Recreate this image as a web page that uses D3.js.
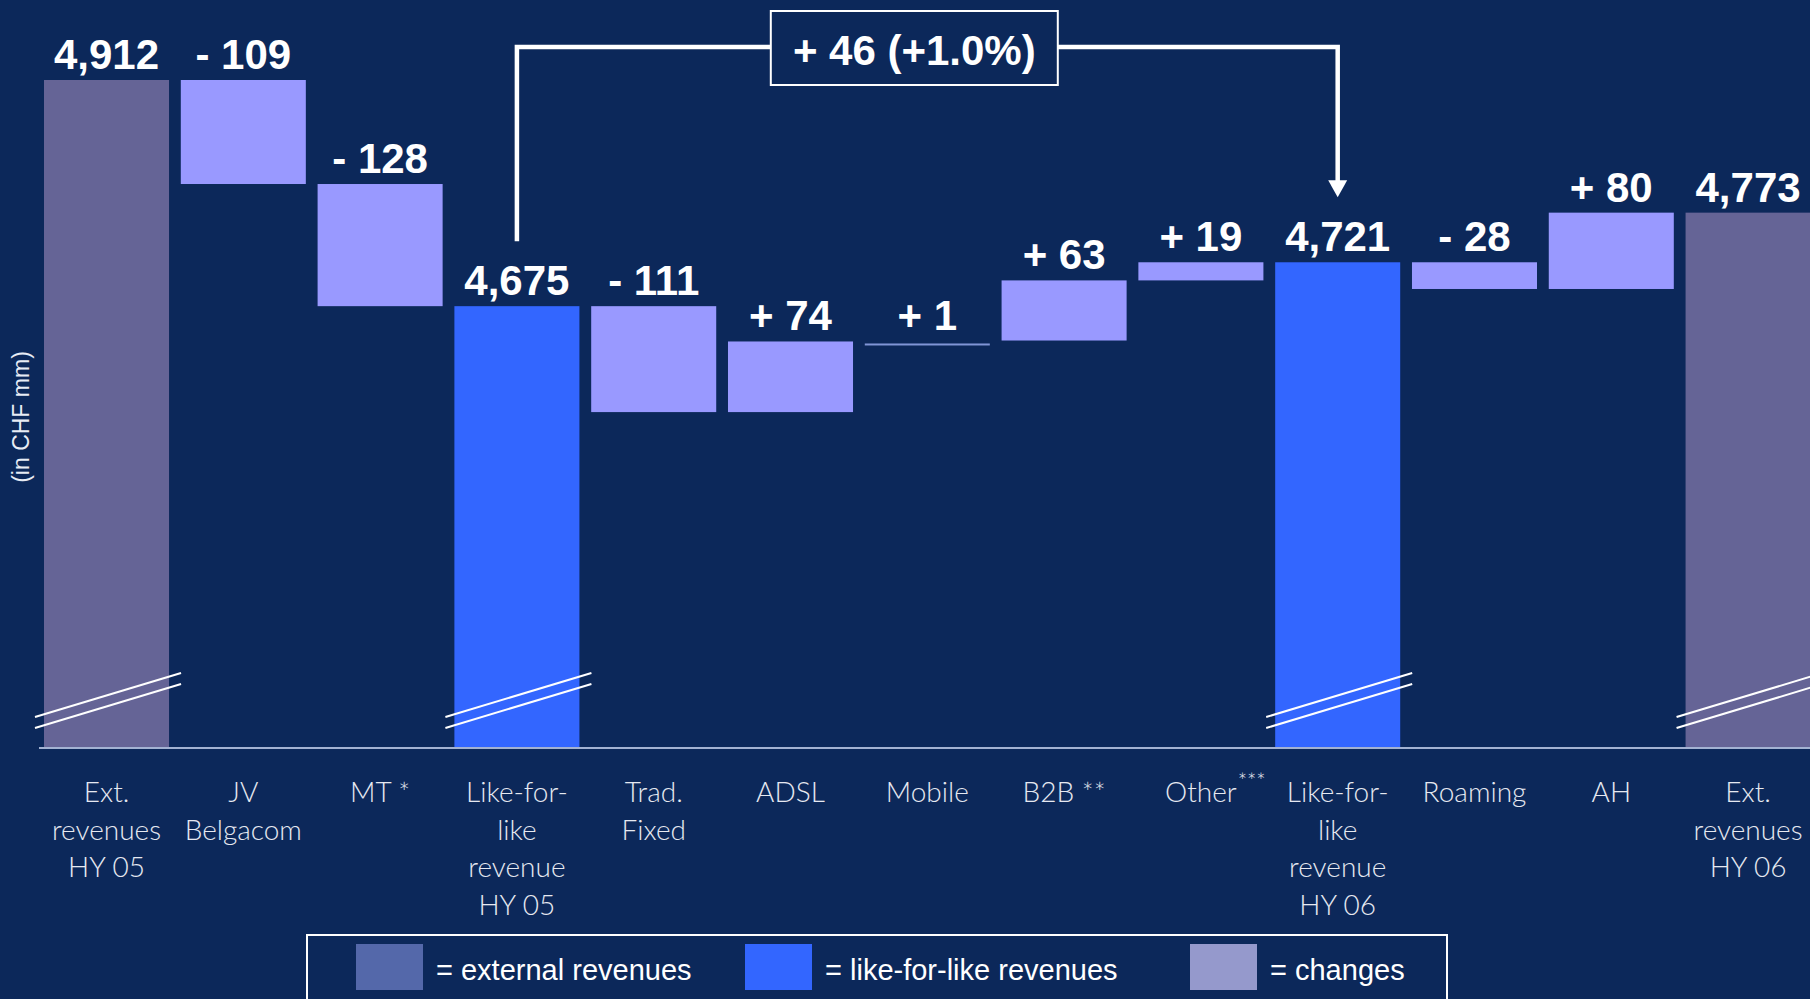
<!DOCTYPE html>
<html>
<head>
<meta charset="utf-8">
<script src="https://cdn.jsdelivr.net/npm/d3@7"></script>
<style>
  html, body { margin: 0; padding: 0; background: #0c285a; overflow: hidden; }
  svg { display: block; }
</style>
</head>
<body>
<svg id="drawing_region"></svg>
<script>
// chart data
const categories = [
    ['Ext.', 'revenues', 'HY 05'],
    ['JV', 'Belgacom'],
    ['MT *'],
    ['Like-for-', 'like', 'revenue', 'HY 05'],
    ['Trad.', 'Fixed'],
    ['ADSL'],
    ['Mobile'],
    ['B2B **'],
    ['Other'],
    ['Like-for-', 'like', 'revenue', 'HY 06'],
    ['Roaming'],
    ['AH'],
    ['Ext.', 'revenues', 'HY 06']
];
const footnoteMarks = ['', '', '', '', '', '', '', '', '***', '', '', '', ''];
const values = [4912, -109, -128, 4675, -111, 74, 1, 63, 19, 4721, -28, 80, 4773];
const kinds = ['ext', 'chg', 'chg', 'lfl', 'chg', 'chg', 'chg', 'chg', 'chg', 'lfl', 'chg', 'chg', 'ext'];
const legendKinds = ['ext', 'lfl', 'chg'];
const legendLabels = ['= external revenues', '= like-for-like revenues', '= changes'];
const axisBase = 4212;   // the axis is cut, bars start from here
const axisTitle = '(in CHF mm)';

const config = {
    parent: '#drawing_region',
    width: 1810,
    height: 999
};

const barColor = { ext: '#656496', lfl: '#3366ff', chg: '#9999ff' };
const legendColor = { ext: '#5468aa', lfl: '#3366ff', chg: '#9599cc' };

// build the waterfall steps
let running = 0;
const bars = values.map((v, i) => {
    let lo, hi;
    if (kinds[i] === 'chg') {
        const end = running + v;
        lo = Math.min(running, end);
        hi = Math.max(running, end);
        running = end;
    } else {
        lo = axisBase;
        hi = v;
        running = v;
    }
    return { i: i, value: v, kind: kinds[i], lo: lo, hi: hi };
});

const fmt = d3.format(',');
const labelOf = d => d.kind === 'chg'
    ? (d.value < 0 ? '- ' : '+ ') + Math.abs(d.value)
    : fmt(d.value);

const svg = d3.select(config.parent)
    .attr('width', config.width)
    .attr('height', config.height);

svg.append('rect')
    .attr('width', config.width)
    .attr('height', config.height)
    .attr('fill', '#0c285a');

const xscale = d3.scaleBand()
    .domain(d3.range(values.length))
    .range([44, 1810.6])
    .paddingInner(0.086)
    .paddingOuter(0)
    .align(0);
const bw = xscale.bandwidth();
const cx = i => xscale(i) + bw / 2;

const yscale = d3.scaleLinear()
    .domain([axisBase, d3.max(bars, d => d.hi)])
    .range([748, 80]);

// bars (a step too small to see is drawn as a thin line)
const tiny = d => (yscale(d.lo) - yscale(d.hi)) < 2;
svg.append('g').selectAll('rect')
    .data(bars)
    .join('rect')
    .attr('x', d => xscale(d.i))
    .attr('y', d => tiny(d) ? yscale(d.lo) + 2 : yscale(d.hi))
    .attr('width', bw)
    .attr('height', d => tiny(d) ? 2 : yscale(d.lo) - yscale(d.hi))
    .attr('fill', d => tiny(d) ? '#8095d6' : barColor[d.kind]);

// base line
const y0 = yscale(axisBase);
svg.append('line')
    .attr('x1', 39).attr('x2', config.width)
    .attr('y1', y0).attr('y2', y0)
    .attr('stroke', '#a3b2d2')
    .attr('stroke-width', 2);

// break marks on the cut bars
const cut = bars.filter(d => d.kind !== 'chg');
[0, 11].forEach(off => {
    svg.append('g').selectAll('line')
        .data(cut)
        .join('line')
        .attr('x1', d => xscale(d.i) - 9)
        .attr('x2', d => xscale(d.i) + bw + 12)
        .attr('y1', y0 - 31 + off)
        .attr('y2', y0 - 75 + off)
        .attr('stroke', '#ffffff')
        .attr('stroke-width', 2);
});

// value labels
svg.append('g').selectAll('text')
    .data(bars)
    .join('text')
    .attr('x', d => cx(d.i))
    .attr('y', d => yscale(d.hi) - 11)
    .attr('text-anchor', 'middle')
    .attr('font-family', '"Liberation Sans", Arial, sans-serif')
    .attr('font-weight', 'bold')
    .attr('font-size', 42)
    .attr('fill', '#ffffff')
    .text(labelOf);

// category labels
const cat = svg.append('g')
    .attr('font-family', 'Lato, "Open Sans", sans-serif')
    .attr('font-weight', 300)
    .attr('font-size', 28)
    .attr('fill', '#e6e9f1');
categories.forEach((lines, i) => {
    const t = cat.append('text')
        .attr('x', cx(i))
        .attr('y', 802)
        .attr('text-anchor', 'middle');
    lines.forEach((s, k) => {
        t.append('tspan')
            .attr('x', cx(i))
            .attr('dy', k === 0 ? 0 : 37.7)
            .text(s);
    });
    if (footnoteMarks[i]) {
        const len = t.node().getComputedTextLength();
        cat.append('text')
            .attr('x', cx(i) + len / 2 + 1)
            .attr('y', 789)
            .attr('font-size', 22)
            .text(footnoteMarks[i]);
    }
});

// y axis title
svg.append('text')
    .attr('transform', 'translate(29,417) rotate(-90)')
    .attr('text-anchor', 'middle')
    .attr('font-family', '"Liberation Sans", Arial, sans-serif')
    .attr('font-size', 23)
    .attr('fill', '#e8ecf5')
    .text(axisTitle);

// like-for-like bracket
const lfl = bars.filter(d => d.kind === 'lfl');
const a = lfl[0], b = lfl[1];
const xa = cx(a.i), xb = cx(b.i);
const topY = 47;
const diff = b.value - a.value;
const pct = d3.format('.1%')(diff / a.value);
const bracketText = '+ ' + diff + ' (+' + pct + ')';
const bx = (xa + xb) / 2 - 13;
const tipY = yscale(b.hi) - 65;

const bracket = svg.append('g');
bracket.append('path')
    .attr('d', `M${xa},${yscale(a.hi) - 65} V${topY} H${xb} V${tipY - 16}`)
    .attr('fill', 'none')
    .attr('stroke', '#ffffff')
    .attr('stroke-width', 4.5);
bracket.append('path')
    .attr('d', `M${xb},${tipY} L${xb - 9.5},${tipY - 17} L${xb + 9.5},${tipY - 17} Z`)
    .attr('fill', '#ffffff');
bracket.append('rect')
    .attr('x', bx - 143.5)
    .attr('y', 11)
    .attr('width', 287)
    .attr('height', 74)
    .attr('fill', '#0c285a')
    .attr('stroke', '#ffffff')
    .attr('stroke-width', 2);
bracket.append('text')
    .attr('x', bx)
    .attr('y', 65)
    .attr('text-anchor', 'middle')
    .attr('font-family', '"Liberation Sans", Arial, sans-serif')
    .attr('font-weight', 'bold')
    .attr('font-size', 42)
    .attr('fill', '#ffffff')
    .text(bracketText);

// legend
const legend = svg.append('g');
legend.append('rect')
    .attr('x', 307).attr('y', 935)
    .attr('width', 1140).attr('height', 100)
    .attr('fill', 'none')
    .attr('stroke', '#ffffff')
    .attr('stroke-width', 2);
const legendX = [356, 745, 1190];
legendKinds.forEach((k, j) => {
    legend.append('rect')
        .attr('x', legendX[j]).attr('y', 944)
        .attr('width', 67).attr('height', 46)
        .attr('fill', legendColor[k]);
    legend.append('text')
        .attr('x', legendX[j] + 80)
        .attr('y', 980)
        .attr('font-family', '"Liberation Sans", Arial, sans-serif')
        .attr('font-size', 29)
        .attr('fill', '#ffffff')
        .text(legendLabels[j]);
});
</script>
</body>
</html>
